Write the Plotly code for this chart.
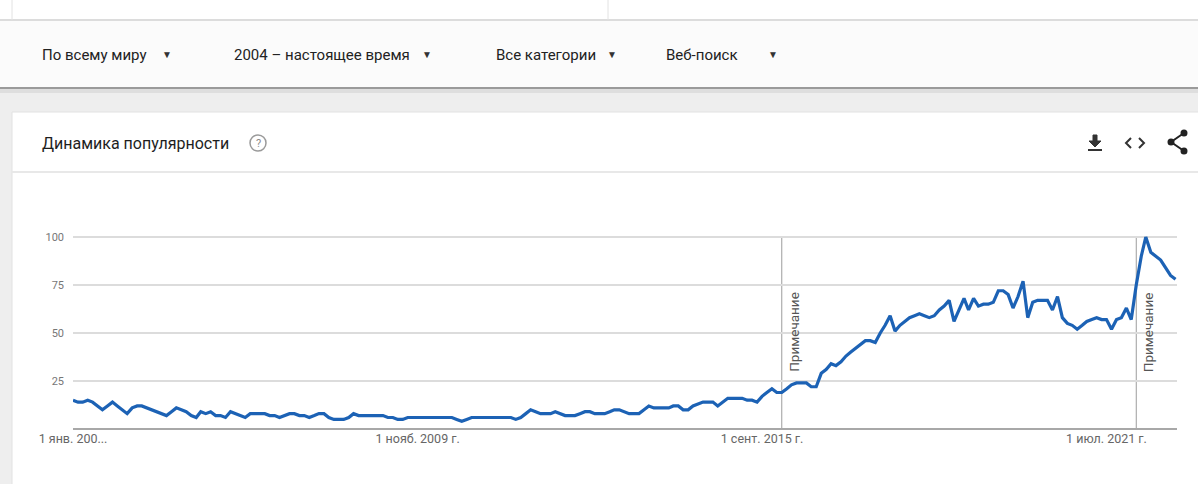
import pandas as pd
import plotly.graph_objects as go

# ---------------- data ----------------
start_month = "2004-01-01"
interest = [
    15, 14, 14, 15, 14, 12, 10, 12, 14, 12, 10, 8,      # 2004
    11, 12, 12, 11, 10, 9, 8, 7, 9, 11, 10, 9,          # 2005
    7, 6, 9, 8, 9, 7, 7, 6, 9, 8, 7, 6,                 # 2006
    8, 8, 8, 8, 7, 7, 6, 7, 8, 8, 7, 7,                 # 2007
    6, 7, 8, 8, 6, 5, 5, 5, 6, 8, 7, 7,                 # 2008
    7, 7, 7, 7, 6, 6, 5, 5, 6, 6, 6, 6,                 # 2009
    6, 6, 6, 6, 6, 6, 5, 4, 5, 6, 6, 6,                 # 2010
    6, 6, 6, 6, 6, 6, 5, 6, 8, 10, 9, 8,                # 2011
    8, 8, 9, 8, 7, 7, 7, 8, 9, 9, 8, 8,                 # 2012
    8, 9, 10, 10, 9, 8, 8, 8, 10, 12, 11, 11,           # 2013
    11, 11, 12, 12, 10, 10, 12, 13, 14, 14, 14, 12,     # 2014
    14, 16, 16, 16, 16, 15, 15, 14, 17, 19, 21, 19,     # 2015
    19, 21, 23, 24, 24, 24, 22, 22, 29, 31, 34, 33,     # 2016
    35, 38, 40, 42, 44, 46, 46, 45, 50, 54, 59, 51,     # 2017
    54, 56, 58, 59, 60, 59, 58, 59, 62, 64, 67, 56,     # 2018
    62, 68, 62, 68, 64, 65, 65, 66, 72, 72, 70, 63,     # 2019
    69, 77, 58, 66, 67, 67, 67, 62, 69, 58, 55, 54,     # 2020
    52, 54, 56, 57, 58, 57, 57, 52, 57, 58, 63, 57,     # 2021
    75, 90, 100, 92, 90, 88, 84, 80, 78,                # 2022
]
months = pd.date_range(start_month, periods=len(interest), freq="MS")

x_tick_dates = ["2004-01-01", "2009-11-01", "2015-09-01", "2021-07-01"]
x_tick_text = ["1 янв. 200...", "1 нояб. 2009 г.", "1 сент. 2015 г.", "1 июл. 2021 г."]
y_tick_vals = [25, 50, 75, 100]
note_dates = ["2016-01-01", "2022-01-01"]
note_text = "Примечание"

filters = ["По всему миру", "2004 – настоящее время", "Все категории", "Веб-поиск"]
card_title = "Динамика популярности"

# ---------------- geometry helpers (pixel -> paper) ----------------
W, H = 1198, 484
ML, MR, MT, MB = 73, 21, 229, 55
PW, PH = W - ML - MR, H - MT - MB
YMAX = 100 * PH / (H - MB - 237)


def px(x):
    return (x - ML) / PW


def py(y):
    return (H - MB - y) / PH


FONT = "Roboto, Arial, sans-serif"

fig = go.Figure()
fig.add_trace(go.Scatter(
    x=months, y=interest, mode="lines",
    line=dict(color="#1c62b5", width=3.2, shape="linear"),
    hoverinfo="skip", showlegend=False,
))

shapes = []
ann = []


def rect(x0, y0, x1, y1, fill, line=None, lw=0, layer="below"):
    shapes.append(dict(type="rect", xref="paper", yref="paper",
                       x0=px(x0), x1=px(x1), y0=py(y1), y1=py(y0),
                       fillcolor=fill, line=dict(color=line or fill, width=lw),
                       layer=layer))


def hline(x0, x1, y, color, w, layer="below"):
    shapes.append(dict(type="line", xref="paper", yref="paper",
                       x0=px(x0), x1=px(x1), y0=py(y), y1=py(y),
                       line=dict(color=color, width=w), layer=layer))


def vline(x, y0, y1, color, w, layer="below"):
    shapes.append(dict(type="line", xref="paper", yref="paper",
                       x0=px(x), x1=px(x), y0=py(y0), y1=py(y1),
                       line=dict(color=color, width=w), layer=layer))


def text(x, y, s, size, color, xanchor="left", angle=0, family=FONT):
    ann.append(dict(xref="paper", yref="paper", x=px(x), y=py(y), text=s,
                    showarrow=False, xanchor=xanchor, yanchor="middle",
                    textangle=angle, font=dict(family=family, size=size, color=color)))


# top strip
rect(0, 0, W, 20, "#ffffff")
hline(0, W, 20, "#dcdcdc", 2)
vline(12, 0, 20, "#e2e2e2", 1)
vline(608, 0, 20, "#e2e2e2", 1)
# filter bar
rect(0, 21, W, 87, "#fbfbfb")
hline(0, W, 88, "#9a9a9a", 2)
rect(0, 89, W, 93, "#dedede")
# card
rect(12, 112, W + 5, H + 5, "#ffffff", "#e2e2e2", 1)
hline(12, W, 172, "#e8e8e8", 2)

# filter texts and arrows
filter_x = [40, 232, 494, 664]
arrow_x = [167, 427, 612, 773]
for fx, ax_, s in zip(filter_x, arrow_x, filters):
    text(fx, 55, s, 15, "#222222")
    text(ax_, 55, "▼", 10, "#333333", xanchor="center")

# card header
text(40, 143, card_title, 16, "#1e1e1e")
shapes.append(dict(type="circle", xref="paper", yref="paper",
                   x0=px(250), x1=px(266), y0=py(151), y1=py(135),
                   line=dict(color="#9a9a9a", width=1.5), fillcolor="rgba(0,0,0,0)"))
text(258, 143, "?", 11, "#8a8a8a", xanchor="center")

# icons (download, embed, share)
def path(d_pts, color, w, fill=None, closed=False):
    d = "M " + " L ".join(f"{px(a)},{py(b)}" for a, b in d_pts)
    if closed:
        d += " Z"
    shapes.append(dict(type="path", xref="paper", yref="paper", path=d,
                       line=dict(color=color, width=w),
                       fillcolor=fill or "rgba(0,0,0,0)", layer="above"))


path([(1093, 135), (1097, 135), (1097, 141), (1101, 141), (1095, 147), (1089, 141), (1093, 141)],
     "#333333", 1, fill="#333333", closed=True)
rect(1088, 149, 1102, 151, "#333333", layer="above")
path([(1131, 138), (1126, 143), (1131, 148)], "#333333", 2)
path([(1139, 138), (1144, 143), (1139, 148)], "#333333", 2)
path([(1184, 133), (1171, 142), (1184, 151)], "#222222", 2)
for cx, cy in [(1184, 133), (1171, 142), (1184, 151)]:
    shapes.append(dict(type="circle", xref="paper", yref="paper",
                       x0=px(cx - 3.5), x1=px(cx + 3.5), y0=py(cy + 3.5), y1=py(cy - 3.5),
                       fillcolor="#222222", line=dict(color="#222222", width=0), layer="above"))

# note lines
for d in note_dates:
    shapes.append(dict(type="line", xref="x", yref="y", x0=d, x1=d, y0=0, y1=100,
                       line=dict(color="#9c9c9c", width=1), layer="below"))
    ann.append(dict(xref="x", yref="y", x=d, y=(H - MB - 332) * YMAX / PH, text=note_text,
                    showarrow=False, textangle=-90, xanchor="left", xshift=2,
                    font=dict(family=FONT, size=13.5, color="#555555")))

fig.update_layout(
    width=W, height=H, autosize=False,
    margin=dict(l=ML, r=MR, t=MT, b=MB, pad=0),
    paper_bgcolor="#eeeeee", plot_bgcolor="#ffffff",
    shapes=shapes, annotations=ann,
    font=dict(family=FONT),
    xaxis=dict(
        type="date", range=["2004-01-01", "2022-09-10"],
        tickvals=x_tick_dates, ticktext=x_tick_text,
        showgrid=False, zeroline=False,
        showline=False, ticks="",
        tickfont=dict(family=FONT, size=12.5, color="#666666"),
        fixedrange=True,
    ),
    yaxis=dict(
        range=[0, YMAX], tickvals=y_tick_vals,
        showgrid=True, gridcolor="#dcdcdc", gridwidth=1.5,
        zeroline=True, zerolinecolor="#a8a8a8", zerolinewidth=2,
        showline=False, ticks="", ticklabelstandoff=8,
        tickfont=dict(family=FONT, size=11, color="#777777"),
        fixedrange=True,
    ),
)

fig.write_html("out.html", config={"displayModeBar": False},
               post_script="document.body.style.margin='0';document.body.style.overflow='hidden';")
